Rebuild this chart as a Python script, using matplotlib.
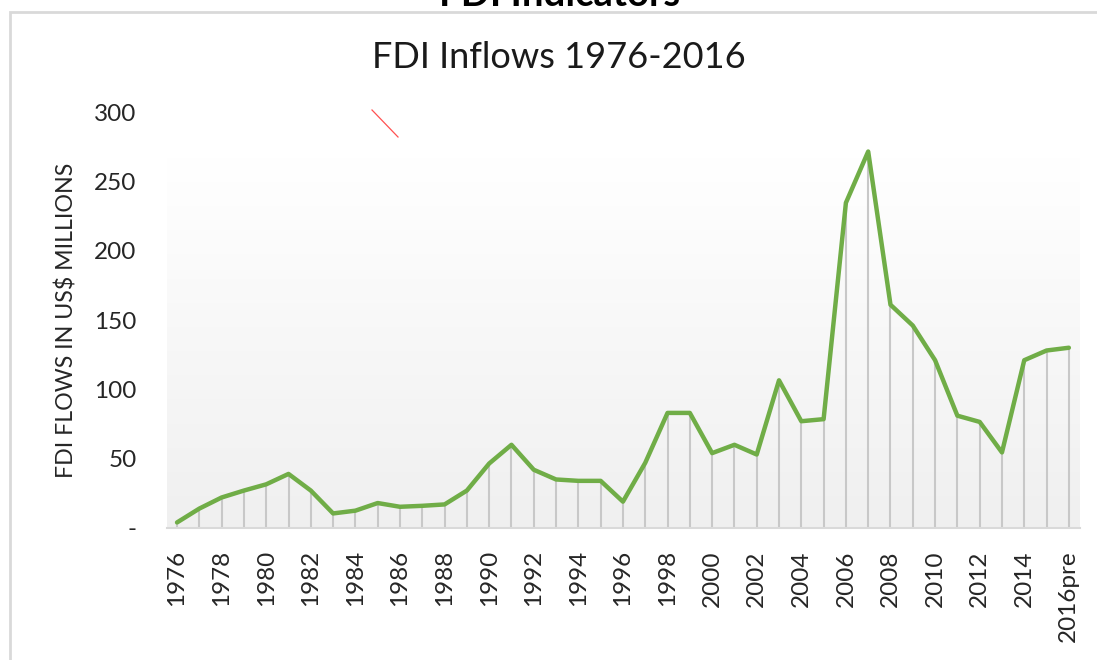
import numpy as np
import matplotlib
matplotlib.use("Agg")
import matplotlib.pyplot as plt
from matplotlib.lines import Line2D
from matplotlib.patches import Rectangle

years = [str(y) for y in range(1976, 2016)] + ["2016pre"]
fdi = [4, 14, 22, 27, 31.5, 39, 27, 10.5, 12.5, 18, 15.3, 16, 17, 27,
       46.5, 60, 42, 35, 34, 34, 19, 47, 83, 83, 54, 60, 53, 106.5,
       77, 78.5, 234.5, 271.5, 161, 146, 121, 81, 76.5, 54.5, 121, 128, 130]
yticks = [0, 50, 100, 150, 200, 250, 300]
ytick_labels = ["-", "50", "100", "150", "200", "250", "300"]
title = "FDI Inflows 1976-2016"
ylabel = "FDI FLOWS IN US$ MILLIONS"
top_title = "FDI Indicators"

plt.rcParams['font.family'] = ['Lato', 'DejaVu Sans']

W, H = 1097, 660
fig = plt.figure(figsize=(W / 100, H / 100), dpi=100)
fig.patch.set_facecolor("white")

# outer frame
fig.add_artist(Rectangle((10 / W, -0.05), 1.2, (H - 12) / H + 0.05,
                         transform=fig.transFigure, fill=False,
                         edgecolor="#d9d9d9", linewidth=2))
# cut-off heading
fig.text(560 / W, 1 + 5 / H, top_title, ha="center", va="center",
         fontsize=27.5, fontweight="bold", color="black")
# stray red mark
fig.add_artist(Line2D([372 / W, 398 / W], [1 - 110 / H, 1 - 137 / H],
                      transform=fig.transFigure, color="#ff5050", linewidth=0.9))
# chart title
fig.text(559 / W, 1 - 57 / H, title, ha="center", va="center",
         fontsize=26, color="#1a1a1a")

ax = fig.add_axes([167 / W, 1 - 528 / H, 913 / W, (528 - 112) / H])
x = np.arange(len(years))

# gradient background
grad = np.linspace(0, 1, 256).reshape(-1, 1)
c_top = np.array([1.0, 1.0, 1.0])
c_bot = np.array([0.94, 0.94, 0.94])
img = c_bot + (c_top - c_bot) * grad
img = np.repeat(img[:, None, :], 2, axis=1).reshape(256, 2, 3)
ax.imshow(img, extent=[-0.45, len(years) - 0.5, 0, 267], aspect="auto",
          origin="lower", zorder=0)
ax.set_xlim(-0.45, len(years) - 0.5)
ax.set_ylim(0, 300)

ax.vlines(x, 0, fdi, color="#c8c8c8", linewidth=1.5, zorder=1)
ax.plot(x, fdi, color="#70AD47", linewidth=3.2, solid_joinstyle="round",
        solid_capstyle="round", zorder=3)

for s in ["top", "right", "left"]:
    ax.spines[s].set_visible(False)
ax.spines["bottom"].set_color("#d9d9d9")
ax.spines["bottom"].set_linewidth(1.5)

ax.set_yticks(yticks)
ax.set_yticklabels(ytick_labels)
ax.tick_params(axis="y", length=0, pad=22, labelsize=17.5, labelcolor="#262626")
ax.set_xticks(x[::2])
ax.set_xticklabels([years[i] for i in range(0, len(years), 2)], rotation=90)
ax.tick_params(axis="x", length=0, pad=16, labelsize=17.5, labelcolor="#262626")

ax.set_ylabel(ylabel, fontsize=16.7, color="#262626", labelpad=12)

fig.savefig("out.png", dpi=100)
